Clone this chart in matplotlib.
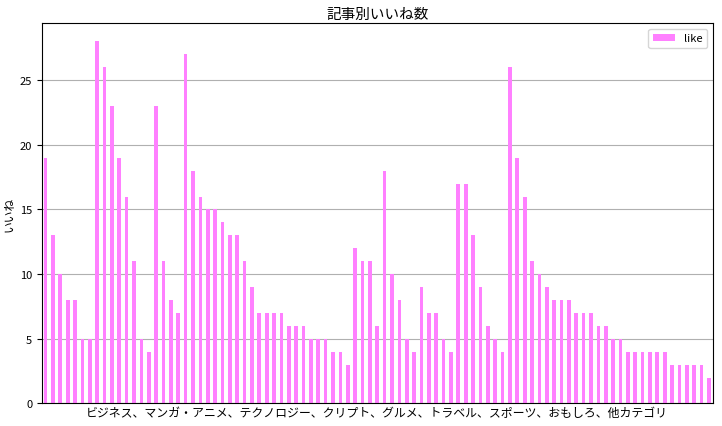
import matplotlib
matplotlib.use("Agg")
import matplotlib.pyplot as plt
import numpy as np
import pandas as pd

plt.rcParams['font.family'] = ['Noto Sans CJK JP', 'DejaVu Sans']

# いいね数 (記事順)
likes = [19, 13, 10, 8, 8, 5, 5, 28, 26, 23, 19, 16, 11, 5, 4, 23, 11, 8, 7,
         27, 18, 16, 15, 15, 14, 13, 13, 11,
         9, 7, 7, 7, 7, 6, 6, 6, 5, 5, 5, 4, 4, 3, 12, 11, 11, 6, 18, 10, 8, 5,
         4, 9, 7, 7, 5, 4, 17, 17, 13, 9, 6,
         5, 4, 26, 19, 16, 11, 10, 9, 8, 8, 8, 7, 7, 7, 6, 6, 5, 5, 4, 4, 4, 4,
         4, 4, 3, 3, 3, 3, 3, 2]
title = "記事別いいね数"
xlabel = "ビジネス、マンガ・アニメ、テクノロジー、クリプト、グルメ、トラベル、スポーツ、おもしろ、他カテゴリ"
ylabel = "いいね"

df = pd.DataFrame({"like": likes})

fig, ax = plt.subplots(figsize=(7.22, 4.27), dpi=100)
fig.subplots_adjust(left=0.058, right=0.987, top=0.943, bottom=0.053)
df.plot.bar(ax=ax, color="#ff80ff", width=0.5)
ax.set_xticks([])
ax.set_title(title, fontsize=10.5, pad=4)
ax.set_xlabel(xlabel, fontsize=8.6, labelpad=2)
ax.set_ylabel(ylabel, fontsize=8.5)
ax.yaxis.set_label_coords(-0.04, 0.5)
ax.tick_params(axis='y', labelsize=8)
ax.grid(axis='y', color='#b0b0b0')
ax.set_axisbelow(True)
ax.legend(loc='upper right', fontsize=8)

plt.savefig("out.png")
